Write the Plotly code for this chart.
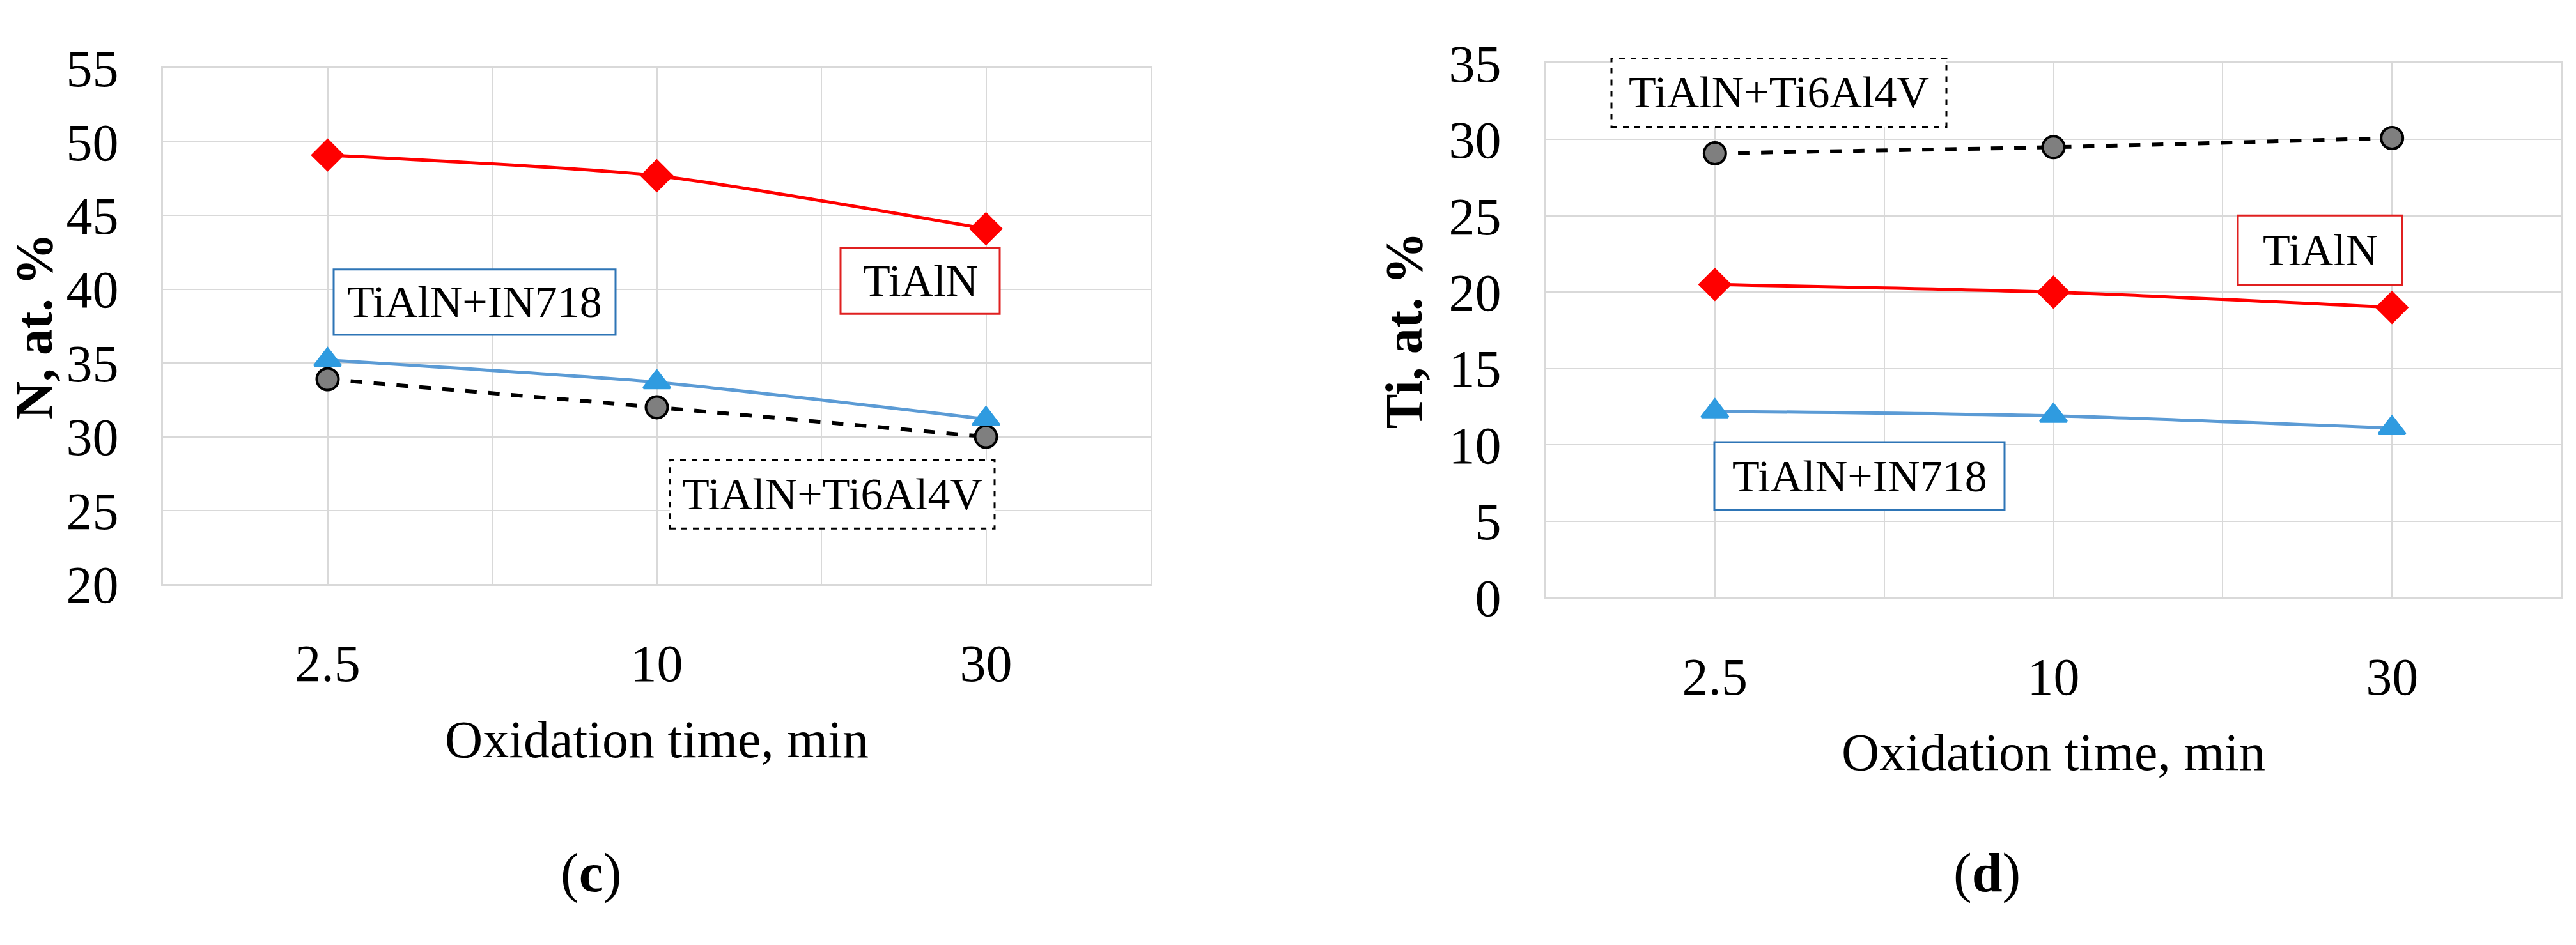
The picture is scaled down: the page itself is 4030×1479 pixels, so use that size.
import plotly.graph_objects as go

categories = ["2.5", "10", "30"]
n_tialn = [49.1, 47.7, 44.1]
n_in718 = [35.2, 33.7, 31.2]
n_ti64 = [33.9, 32.0, 30.0]
ti_tialn = [20.5, 20.0, 19.0]
ti_in718 = [12.2, 11.9, 11.1]
ti_ti64 = [29.1, 29.5, 30.1]
x_title = "Oxidation time, min"

W, H = 4030, 1479
FONT = "Liberation Serif"
xpos = list(range(len(categories)))

fig = go.Figure()

def add_series(y, xa, ya, color, symbol, mcolor, dash, lw, ms, mline):
    fig.add_trace(go.Scatter(
        x=xpos, y=y, xaxis=xa, yaxis=ya, mode="lines+markers",
        line=dict(color=color, width=lw, dash=dash, shape="spline", smoothing=0.6),
        marker=dict(symbol=symbol, color=mcolor, size=ms, line=dict(color=mline, width=4)),
        showlegend=False))

# left (c)
add_series(n_ti64, "x", "y", "black", "circle", "#7f7f7f", "dash", 6, 34, "black")
add_series(n_in718, "x", "y", "#5b9bd5", "triangle-up", "#2f9be0", "solid", 5, 36, "#2f9be0")
add_series(n_tialn, "x", "y", "#ff0000", "diamond", "#ff0000", "solid", 5, 36, "#ff0000")
# right (d)
add_series(ti_ti64, "x2", "y2", "black", "circle", "#7f7f7f", "dash", 6, 34, "black")
add_series(ti_in718, "x2", "y2", "#5b9bd5", "triangle-up", "#2f9be0", "solid", 5, 36, "#2f9be0")
add_series(ti_tialn, "x2", "y2", "#ff0000", "diamond", "#ff0000", "solid", 5, 36, "#ff0000")

tv = [-0.5, 0, 0.5, 1, 1.5, 2, 2.5]
tt = ["", categories[0], "", categories[1], "", categories[2], ""]
xcommon = dict(range=[-0.5, 2.5], tickvals=tv, ticktext=tt, showgrid=True, gridcolor="#d9d9d9",
               gridwidth=2, showline=True, mirror=True, linecolor="#d9d9d9", linewidth=3,
               zeroline=False, ticks="", tickfont=dict(family=FONT, size=82, color="black"),
               ticklabelstandoff=50,
               title=dict(text=x_title, font=dict(family=FONT, size=82, color="black"), standoff=45))
ycommon = dict(showgrid=True, gridcolor="#d9d9d9", gridwidth=2, showline=True, mirror=True,
               linecolor="#d9d9d9", linewidth=3, zeroline=False, ticks="",
               tickfont=dict(family=FONT, size=82, color="black"), ticklabelstandoff=50)

fig.update_layout(
    width=W, height=H, margin=dict(l=0, r=0, t=0, b=0),
    paper_bgcolor="white", plot_bgcolor="white",
    xaxis=dict(domain=[247/W, 1792/W], anchor="y", **xcommon),
    yaxis=dict(domain=[1-919/H, 1-58/H], anchor="x", range=[20, 55], dtick=5,
               title=dict(text="<b>N, at. %</b>", font=dict(family=FONT, size=82, color="black"), standoff=15),
               **ycommon),
    xaxis2=dict(domain=[2410/W, 3999/W], anchor="y2", **xcommon),
    yaxis2=dict(domain=[1-941/H, 1-50/H], anchor="x2", range=[0, 35], dtick=5,
                title=dict(text="<b>Ti, at. %</b>", font=dict(family=FONT, size=82, color="black"), standoff=15),
                **ycommon),
)

def box(x0, y0, x1, y1, color, dash, text):
    fig.add_shape(type="rect", xref="paper", yref="paper",
                  x0=x0/W, x1=x1/W, y0=1-y1/H, y1=1-y0/H,
                  line=dict(color=color, width=3, dash=dash), fillcolor="white", layer="above")
    fig.add_annotation(xref="paper", yref="paper", x=(x0+x1)/2/W, y=1-(y0+y1)/2/H,
                       xanchor="center", yanchor="middle",
                       text=text, showarrow=False, font=dict(family=FONT, size=70, color="black"))

box(514, 394, 955, 503, "#2e75b6", "solid", "TiAlN+IN718")
box(1307, 358, 1556, 468, "#e02020", "solid", "TiAlN")
box(1040, 712, 1548, 826, "black", "dash", "TiAlN+Ti6Al4V")
box(2513, 42, 3037, 156, "black", "dash", "TiAlN+Ti6Al4V")
box(3493, 304, 3750, 420, "#e02020", "solid", "TiAlN")
box(2674, 682, 3128, 795, "#2e75b6", "solid", "TiAlN+IN718")

fig.add_annotation(xref="paper", yref="paper", x=916/W, y=1-1400/H, text="(<b>c</b>)",
                   xanchor="center", yanchor="middle",
                   showarrow=False, font=dict(family=FONT, size=86, color="black"))
fig.add_annotation(xref="paper", yref="paper", x=3100/W, y=1-1400/H, text="(<b>d</b>)",
                   xanchor="center", yanchor="middle",
                   showarrow=False, font=dict(family=FONT, size=86, color="black"))

fig.write_html("out.html")
